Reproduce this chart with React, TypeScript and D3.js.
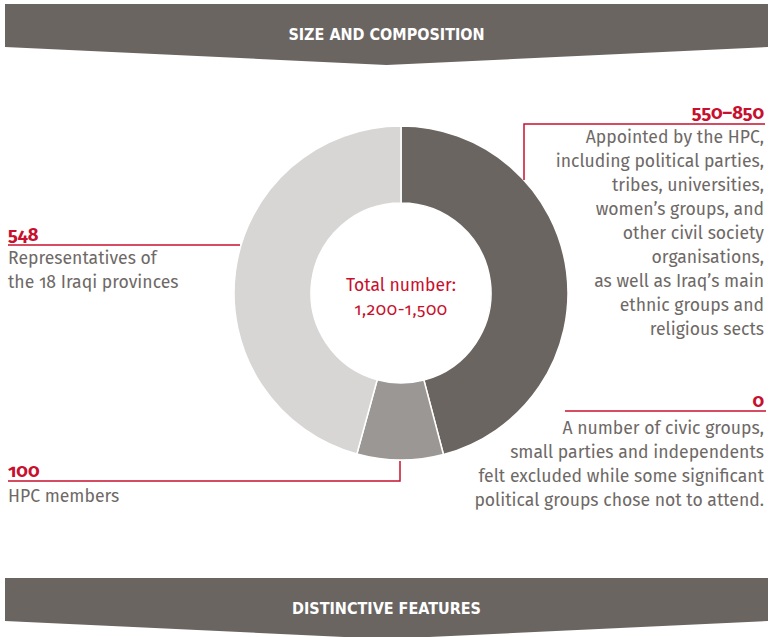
import React from "react";
import * as d3 from "d3";

const categories = ["Appointed by the HPC", "HPC members", "Representatives of the 18 Iraqi provinces"];
const seriesValues = [550, 100, 548];
const sliceColors = ["#6b6562", "#9b9794", "#d8d6d4"];
const bannerTitles = ["SIZE AND COMPOSITION", "DISTINCTIVE FEATURES"];
const centerLines = ["Total number:", "1,200-1,500"];
const labelNumbers = ["550–850", "100", "548", "0"];
const appointedLines = [
  "Appointed by the HPC,",
  "including political parties,",
  "tribes, universities,",
  "women’s groups, and",
  "other civil society",
  "organisations,",
  "as well as Iraq’s main",
  "ethnic groups and",
  "religious sects",
];
const excludedLines = [
  "A number of civic groups,",
  "small parties and independents",
  "felt excluded while some significant",
  "political groups chose not to attend.",
];
const provinceLines = ["Representatives of", "the 18 Iraqi provinces"];
const memberLines = ["HPC members"];

const W = 773;
const H = 637;
const RED = "#c8102e";
const TEXT = "#6e6966";
const FONT = "'Fira Sans', 'Noto Sans', 'Open Sans', sans-serif";
const BANNER_FONT = "'Liberation Sans Narrow', 'DejaVu Sans Condensed', sans-serif";
const FS = 17.6;
const NUM_STYLE = { fontVariantNumeric: "oldstyle-nums" as const };

function Banner({ y, title }: { y: number; title: string }) {
  const x0 = 5, x1 = 768;
  const path = d3.path();
  path.moveTo(x0, y);
  path.lineTo(x1, y);
  path.lineTo(x1, y + 43);
  path.lineTo((x0 + x1) / 2, y + 61);
  path.lineTo(x0, y + 43);
  path.closePath();
  return (
    <g>
      <path d={path.toString()} fill="#6b6562" />
      <text x={(x0 + x1) / 2} y={y + 36} textAnchor="middle" fill="#fff"
        fontFamily={BANNER_FONT} fontWeight="bold" fontSize={16} style={{ fontStretch: "condensed" }}>
        {title}
      </text>
    </g>
  );
}

export default function App() {
  const cx = 401, cy = 293, rOuter = 167, rInner = 90;
  const pie = d3.pie<number>().sort(null).value((d) => d);
  const arcs = pie(seriesValues);
  const arcGen = d3.arc<d3.PieArcDatum<number>>().innerRadius(rInner).outerRadius(rOuter);
  const lh = 24;

  return (
    <svg width={W} height={H} style={{ position: "absolute", left: 0, top: 0 }}>
      <rect width={W} height={H} fill="#fff" />
      <Banner y={4} title={bannerTitles[0]} />
      <Banner y={578} title={bannerTitles[1]} />

      <g transform={`translate(${cx},${cy})`}>
        {arcs.map((a, i) => (
          <path key={categories[i]} d={arcGen(a) || ""} fill={sliceColors[i]} stroke="#fff" strokeWidth={1.5} />
        ))}
        <text y={-2} textAnchor="middle" fill={RED} fontFamily={FONT} fontSize={17.5}>{centerLines[0]}</text>
        <text y={22} textAnchor="middle" fill={RED} fontFamily={FONT} fontSize={17} letterSpacing={0.6} style={NUM_STYLE}>{centerLines[1]}</text>
      </g>

      {/* 550-850 label */}
      <polyline points={`765,124 524,124 524,180`} fill="none" stroke={RED} strokeWidth={1.5} />
      <text x={764} y={119} textAnchor="end" fill={RED} fontFamily={FONT} fontWeight="bold" fontSize={18.5} style={NUM_STYLE}>{labelNumbers[0]}</text>
      {appointedLines.map((t, i) => (
        <text key={t} x={764} y={143 + i * lh} textAnchor="end" fill={TEXT} fontFamily={FONT} fontSize={FS}>{t}</text>
      ))}

      {/* 0 label */}
      <line x1={565} x2={766} y1={411} y2={411} stroke={RED} strokeWidth={1.5} />
      <text x={764} y={407} textAnchor="end" fill={RED} fontFamily={FONT} fontWeight="bold" fontSize={18.5} style={NUM_STYLE}>{labelNumbers[3]}</text>
      {excludedLines.map((t, i) => (
        <text key={t} x={764} y={434 + i * lh} textAnchor="end" fill={TEXT} fontFamily={FONT} fontSize={FS}>{t}</text>
      ))}

      {/* 548 label */}
      <line x1={8} x2={240} y1={245} y2={245} stroke={RED} strokeWidth={1.5} />
      <text x={8} y={241} fill={RED} fontFamily={FONT} fontWeight="bold" fontSize={18.5} style={NUM_STYLE}>{labelNumbers[2]}</text>
      {provinceLines.map((t, i) => (
        <text key={t} x={8} y={264 + i * 23.5} fill={TEXT} fontFamily={FONT} fontSize={FS} style={NUM_STYLE}>{t}</text>
      ))}

      {/* 100 label */}
      <polyline points={`8,481 400,481 400,461`} fill="none" stroke={RED} strokeWidth={1.5} />
      <text x={8} y={477} fill={RED} fontFamily={FONT} fontWeight="bold" fontSize={18.5} style={NUM_STYLE}>{labelNumbers[1]}</text>
      {memberLines.map((t, i) => (
        <text key={t} x={8} y={502 + i * lh} fill={TEXT} fontFamily={FONT} fontSize={FS}>{t}</text>
      ))}
    </svg>
  );
}
